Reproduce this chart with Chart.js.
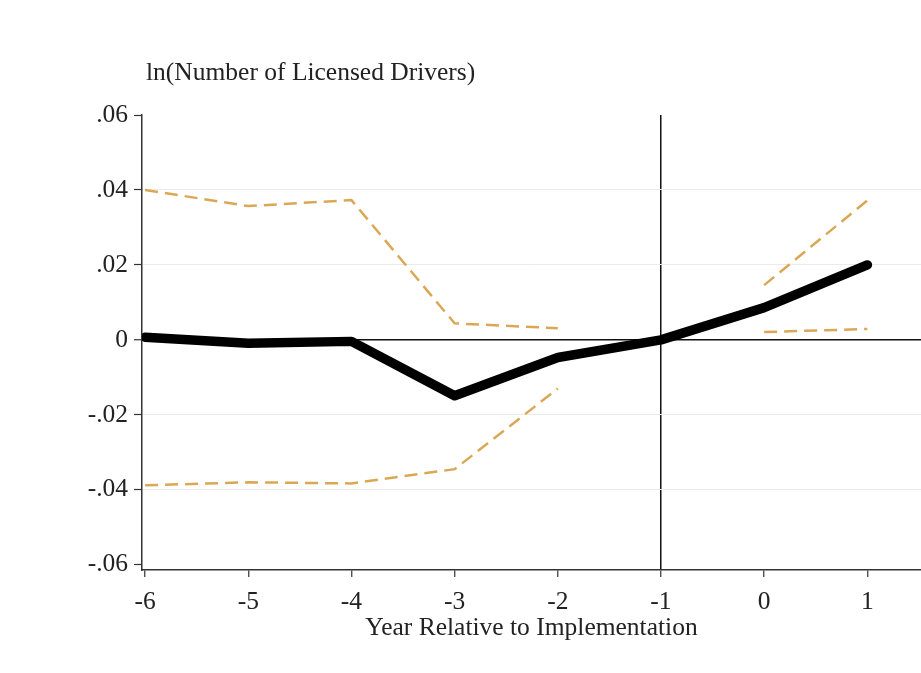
<!DOCTYPE html>
<html>
<head>
<meta charset="utf-8">
<script src="https://cdn.jsdelivr.net/npm/chart.js@4"></script>
<style>
  html, body { margin: 0; padding: 0; background: #fff; }
  #wrap { width: 921px; height: 673px; position: relative; }
</style>
</head>
<body>
<div id="wrap"><canvas id="chart"></canvas></div>
<script>
const years = [-6, -5, -4, -3, -2, -1, 0, 1];
const estimate = [0.0007, -0.0009, -0.0004, -0.0149, -0.0047, 0, 0.0086, 0.0200];
const upperCI = [0.0400, 0.0357, 0.0373, 0.0044, 0.0031, null, 0.0146, 0.0372];
const lowerCI = [-0.0388, -0.0380, -0.0383, -0.0345, -0.0130, null, 0.0021, 0.0029];
const yTicks = [-0.06, -0.04, -0.02, 0, 0.02, 0.04, 0.06];

const serif = "'Liberation Serif', 'DejaVu Serif', serif";
const ciColor = "rgb(218, 168, 84)";
const fontSize = 25.5;

function pts(vals) {
    return years.map((x, i) => ({ x: x, y: vals[i] }));
}

function fmtY(v) {
    if (Math.abs(v) < 1e-9) return "0";
    const s = Math.abs(v).toFixed(2).replace("0.", ".");
    return (v < 0 ? "-" : "") + s;
}

const yTitle = {
    id: "yTitle",
    afterDraw(chart) {
        const c = chart.ctx;
        c.save();
        c.font = fontSize + "px " + serif;
        c.fillStyle = "#222";
        c.textBaseline = "middle";
        c.fillText("ln(Number of Licensed Drivers)", chart.chartArea.left + 4, 73);
        c.restore();
    }
};

const ciStyle = {
    borderColor: ciColor,
    borderWidth: 2.5,
    borderDash: [13, 7],
    pointRadius: 0,
    fill: false,
    spanGaps: false,
    tension: 0
};

new Chart(document.getElementById("chart").getContext("2d"), {
    type: "line",
    data: {
        datasets: [
            Object.assign({ label: "Upper", data: pts(upperCI) }, ciStyle),
            Object.assign({ label: "Lower", data: pts(lowerCI) }, ciStyle),
            {
                label: "Estimate",
                data: pts(estimate),
                borderColor: "#000",
                borderWidth: 9.5,
                borderJoinStyle: "round",
                borderCapStyle: "round",
                pointRadius: 0,
                fill: false,
                tension: 0
            }
        ]
    },
    options: {
        animation: false,
        responsive: true,
        maintainAspectRatio: false,
        layout: { padding: { top: 115, left: 0, right: 0, bottom: 29 } },
        plugins: {
            legend: { display: false },
            tooltip: { enabled: false }
        },
        scales: {
            x: {
                type: "linear",
                min: -6.03,
                max: 1.52,
                afterBuildTicks: s => { s.ticks = years.map(v => ({ value: v })); },
                afterFit: s => { s.height = 74; },
                border: { display: true, color: "#333", width: 1.5 },
                grid: {
                    drawOnChartArea: true,
                    color: c => (c.tick && c.tick.value === -1) ? "#111" : "rgba(0,0,0,0)",
                    lineWidth: 1.5,
                    tickColor: "#333",
                    tickLength: 7,
                    tickWidth: 1.2
                },
                ticks: {
                    font: { family: serif, size: fontSize },
                    color: "#222",
                    padding: 10
                },
                title: {
                    display: true,
                    text: "Year Relative to Implementation",
                    font: { family: serif, size: fontSize },
                    color: "#222",
                    padding: { top: 0, bottom: 0 }
                }
            },
            y: {
                min: -0.0614,
                max: 0.06,
                afterBuildTicks: s => { s.ticks = yTicks.map(v => ({ value: v })); },
                afterFit: s => { s.width = 142; },
                border: { display: true, color: "#333", width: 1.5 },
                grid: {
                    color: c => {
                        const v = c.tick ? c.tick.value : null;
                        if (v === 0) return "#111";
                        if (Math.abs(v) > 0.05) return "rgba(0,0,0,0)";
                        return "#ebebeb";
                    },
                    lineWidth: c => (c.tick && c.tick.value === 0) ? 1.5 : 1,
                    tickColor: "#333",
                    tickLength: 8,
                    tickWidth: 1.2
                },
                ticks: {
                    font: { family: serif, size: fontSize },
                    color: "#222",
                    padding: 6,
                    callback: v => fmtY(v)
                }
            }
        }
    },
    plugins: [yTitle]
});
</script>
</body>
</html>
